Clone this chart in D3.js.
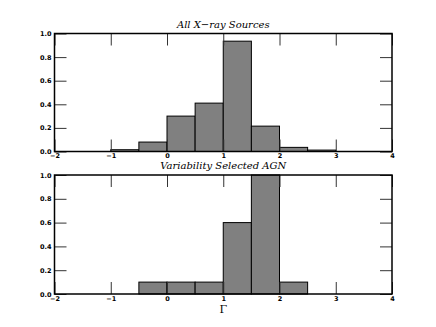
<!DOCTYPE html>
<html><head><meta charset="utf-8">
<script src="https://cdn.jsdelivr.net/npm/d3@7"></script>
<style>body{margin:0;background:#fff}svg{display:block}</style>
</head><body>
<script>
const binStarts = [-1, -0.5, 0, 0.5, 1, 1.5, 2, 2.5];
const binWidth = 0.5;
const allSources = [0.015, 0.08, 0.30, 0.41, 0.935, 0.215, 0.035, 0.012];
const agnStarts = [-0.5, 0, 0.5, 1, 1.5, 2];
const agnValues = [0.1, 0.1, 0.1, 0.6, 1.0, 0.1];
const xTicks = [-2, -1, 0, 1, 2, 3, 4];
const yTicks = [0, 0.2, 0.4, 0.6, 0.8, 1.0];
const titles = ["All X\u2212ray Sources", "Variability Selected AGN"];

const W = 436, H = 327;
const svg = d3.select("body").append("svg").attr("width", W).attr("height", H);
const x = d3.scaleLinear().domain([-2, 4]).range([54.5, 392]);

function panel(top, bottom, starts, vals, title) {
  const y = d3.scaleLinear().domain([0, 1]).range([bottom, top]);
  const g = svg.append("g");
  g.selectAll("rect.bar").data(vals).join("rect")
    .attr("x", (d, i) => x(starts[i]))
    .attr("y", d => y(d))
    .attr("width", (d, i) => x(starts[i] + binWidth) - x(starts[i]))
    .attr("height", d => y(0) - y(d))
    .attr("fill", "#808080").attr("stroke", "#000").attr("stroke-width", 1);
  const fmt = d3.format(".1f");
  const yl = g.append("g").attr("transform", `translate(${x(-2)},0)`)
    .call(d3.axisLeft(y).tickValues(yTicks).tickSize(-12).tickPadding(3).tickFormat(fmt));
  const yr = g.append("g").attr("transform", `translate(${x(4)},0)`)
    .call(d3.axisRight(y).tickValues(yTicks).tickSize(-12).tickFormat(""));
  const xb = g.append("g").attr("transform", `translate(0,${bottom})`)
    .call(d3.axisBottom(x).tickValues(xTicks).tickSize(-12).tickPadding(2).tickFormat(d => d < 0 ? "\u2212" + Math.abs(d) : d));
  const xt = g.append("g").attr("transform", `translate(0,${top})`)
    .call(d3.axisTop(x).tickValues(xTicks).tickSize(-12).tickFormat(""));
  [yl, yr, xb, xt].forEach(a => {
    a.select(".domain").remove();
    a.selectAll(".tick line").attr("stroke", "#333").attr("stroke-width", 1);
    a.selectAll("text").attr("font-family", "DejaVu Sans").attr("font-weight", "bold").attr("font-size", 6.5).attr("fill", "#000");
  });
  g.append("rect").attr("x", x(-2)).attr("y", top).attr("width", x(4) - x(-2)).attr("height", bottom - top)
    .attr("fill", "none").attr("stroke", "#000").attr("stroke-width", 1.5);
  g.append("text").attr("x", (x(-2) + x(4)) / 2).attr("y", top - 6).attr("text-anchor", "middle")
    .attr("font-family", "DejaVu Serif").attr("font-style", "italic").attr("font-size", 10).text(title);
}
panel(33.5, 151.5, binStarts, allSources, titles[0]);
panel(175, 294, agnStarts, agnValues, titles[1]);
svg.append("text").attr("x", (x(-2) + x(4)) / 2).attr("y", 313).attr("text-anchor", "middle")
  .attr("font-family", "DejaVu Serif").attr("font-size", 11).text("\u0393");
</script>
</body></html>
